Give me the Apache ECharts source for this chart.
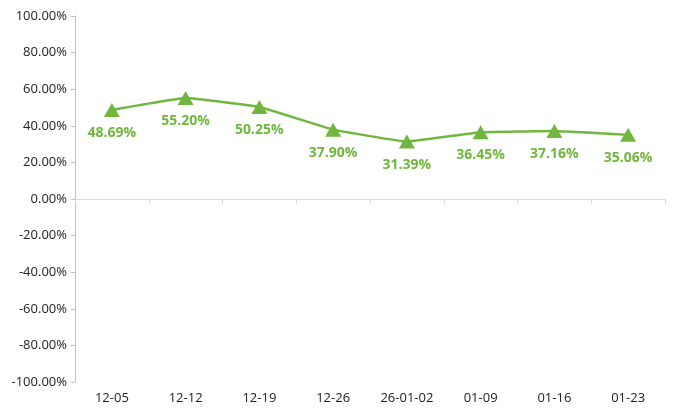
<!DOCTYPE html>
<html><head><meta charset="utf-8">
<script src="https://cdn.jsdelivr.net/npm/echarts@6/dist/echarts.min.js"></script>
<style>html,body{margin:0;padding:0;background:#fff}#c{width:675px;height:415px}</style>
</head><body><div id="c"></div>
<script>
const categories = ['12-05','12-12','12-19','12-26','26-01-02','01-09','01-16','01-23'];
const values = [48.69, 55.20, 50.25, 37.90, 31.39, 36.45, 37.16, 35.06];
const green = '#70b63f';
const font = '"Open Sans", "Noto Sans", sans-serif';
const chart = echarts.init(document.getElementById('c'));
chart.setOption({
  animation: false,
  grid: {left: 75, right: 10, top: 16, bottom: 33, containLabel: false},
  xAxis: [{
    type: 'category', data: categories, position: 'bottom',
    axisLine: {show: false, onZero: false}, axisTick: {show: false},
    axisLabel: {color: '#222', fontSize: 13, fontFamily: font, margin: 10}
  }, {
    type: 'category', data: categories, position: 'bottom',
    axisLine: {show: true, onZero: true, lineStyle: {color: '#d9d9d9', width: 1}},
    axisTick: {show: true, length: 5, lineStyle: {color: '#d9d9d9'}},
    axisLabel: {show: false}
  }],
  yAxis: {
    type: 'value', min: -100, max: 100, interval: 20,
    axisLine: {show: true, lineStyle: {color: '#bfbfbf'}},
    axisTick: {show: true, length: 4, lineStyle: {color: '#bfbfbf'}},
    splitLine: {show: false},
    axisLabel: {color: '#222', fontSize: 13, fontFamily: font, margin: 8,
      formatter: v => v.toFixed(2) + '%'}
  },
  series: [{
    type: 'line', data: values, xAxisIndex: 0, smooth: 0.08,
    lineStyle: {color: green, width: 2.5},
    itemStyle: {color: green},
    symbol: 'triangle', symbolSize: [16, 14],
    label: {show: true, position: 'bottom', distance: 9, color: green,
      fontWeight: 'bold', fontSize: 14, fontFamily: font,
      formatter: p => p.value.toFixed(2) + '%'}
  }]
});
</script></body></html>
